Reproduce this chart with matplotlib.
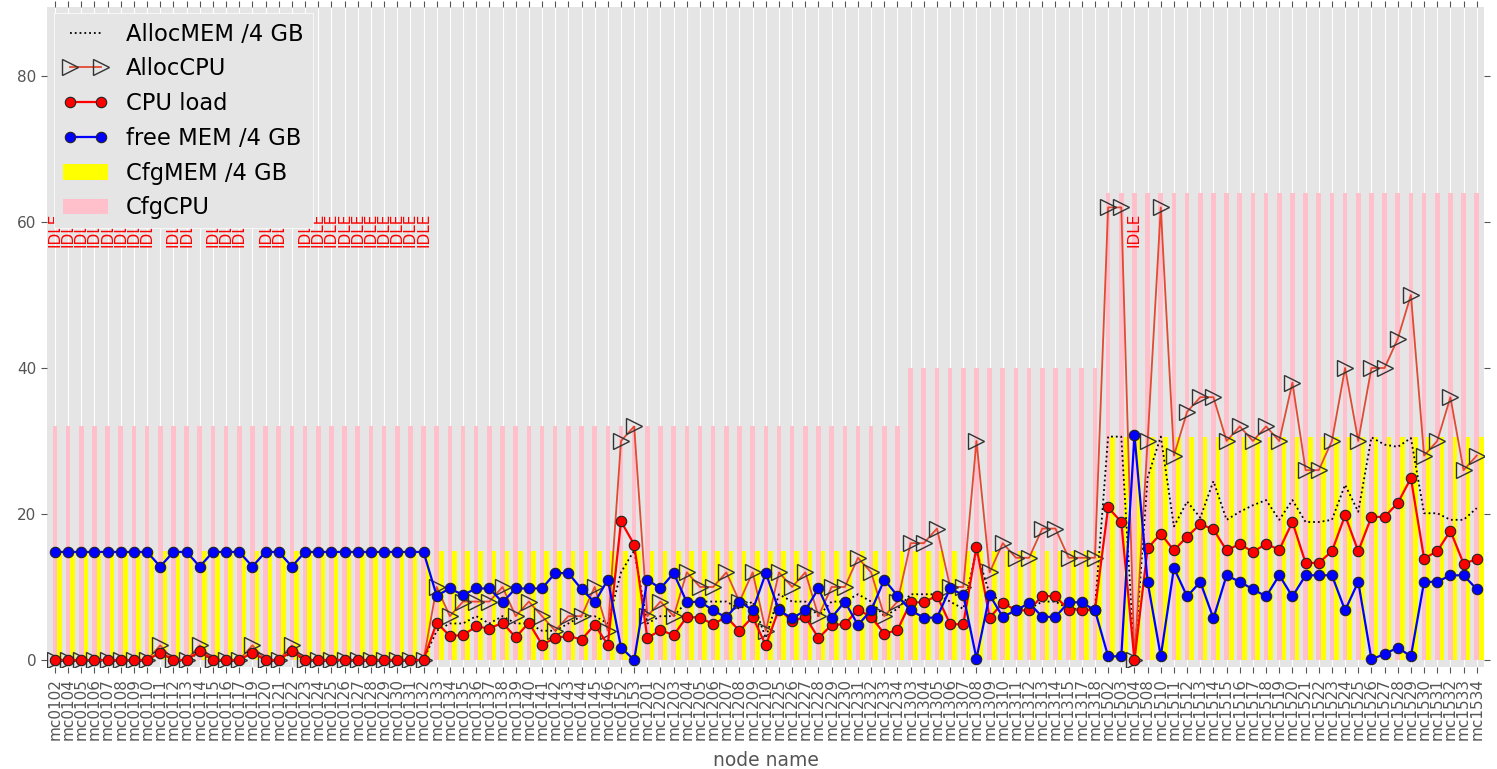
import matplotlib
matplotlib.use('Agg')
import matplotlib.pyplot as plt
import numpy as np

# node load overview: configured resources as bars, allocation/usage as lines

nodes = ['mc0102', 'mc0104', 'mc0105', 'mc0106', 'mc0107', 'mc0108', 'mc0109', 'mc0110', 'mc0111', 'mc0112',
         'mc0113', 'mc0114', 'mc0115', 'mc0116', 'mc0117', 'mc0119', 'mc0120', 'mc0121', 'mc0122', 'mc0123',
         'mc0124', 'mc0125', 'mc0126', 'mc0127', 'mc0128', 'mc0129', 'mc0130', 'mc0131', 'mc0132', 'mc0133',
         'mc0134', 'mc0135', 'mc0136', 'mc0137', 'mc0138', 'mc0139', 'mc0140', 'mc0141', 'mc0142', 'mc0143',
         'mc0144', 'mc0145', 'mc0146', 'mc0152', 'mc0153',
         'mc1201', 'mc1202', 'mc1203', 'mc1204', 'mc1205', 'mc1206', 'mc1207', 'mc1208', 'mc1209', 'mc1210',
         'mc1225', 'mc1226', 'mc1227', 'mc1228', 'mc1229', 'mc1230', 'mc1231', 'mc1232', 'mc1233', 'mc1234',
         'mc1303', 'mc1304', 'mc1305', 'mc1306', 'mc1307', 'mc1308', 'mc1309', 'mc1310', 'mc1311', 'mc1312',
         'mc1313', 'mc1314', 'mc1315', 'mc1317', 'mc1318',
         'mc1502', 'mc1503', 'mc1504', 'mc1508', 'mc1510', 'mc1511', 'mc1512', 'mc1513', 'mc1514', 'mc1515',
         'mc1516', 'mc1517', 'mc1518', 'mc1519', 'mc1520', 'mc1521', 'mc1522', 'mc1523', 'mc1524', 'mc1525',
         'mc1526', 'mc1527', 'mc1528', 'mc1529', 'mc1530', 'mc1531', 'mc1532', 'mc1533', 'mc1534']

cfg_cpu = [32, 32, 32, 32, 32, 32, 32, 32, 32, 32,
           32, 32, 32, 32, 32, 32, 32, 32, 32, 32,
           32, 32, 32, 32, 32, 32, 32, 32, 32, 32,
           32, 32, 32, 32, 32, 32, 32, 32, 32, 32,
           32, 32, 32, 32, 32,
           32, 32, 32, 32, 32, 32, 32, 32, 32, 32,
           32, 32, 32, 32, 32, 32, 32, 32, 32, 32,
           40, 40, 40, 40, 40, 40, 40, 40, 40, 40,
           40, 40, 40, 40, 40,
           64, 64, 64, 64, 64, 64, 64, 64, 64, 64,
           64, 64, 64, 64, 64, 64, 64, 64, 64, 64,
           64, 64, 64, 64, 64, 64, 64, 64, 64]

cfg_mem = [14.9, 14.9, 14.9, 14.9, 14.9, 14.9, 14.9, 14.9, 14.9, 14.9,
           14.9, 14.9, 14.9, 14.9, 14.9, 14.9, 14.9, 14.9, 14.9, 14.9,
           14.9, 14.9, 14.9, 14.9, 14.9, 14.9, 14.9, 14.9, 14.9, 14.9,
           14.9, 14.9, 14.9, 14.9, 14.9, 14.9, 14.9, 14.9, 14.9, 14.9,
           14.9, 14.9, 14.9, 14.9, 14.9,
           14.9, 14.9, 14.9, 14.9, 14.9, 14.9, 14.9, 14.9, 14.9, 14.9,
           14.9, 14.9, 14.9, 14.9, 14.9, 14.9, 14.9, 14.9, 14.9, 14.9,
           14.9, 14.9, 14.9, 14.9, 14.9, 14.9, 14.9, 14.9, 14.9, 14.9,
           14.9, 14.9, 14.9, 14.9, 14.9,
           30.6, 30.6, 30.6, 30.6, 30.6, 30.6, 30.6, 30.6, 30.6, 30.6,
           30.6, 30.6, 30.6, 30.6, 30.6, 30.6, 30.6, 30.6, 30.6, 30.6,
           30.6, 30.6, 30.6, 30.6, 30.6, 30.6, 30.6, 30.6, 30.6]

alloc_cpu = [0, 0, 0, 0, 0, 0, 0, 0, 2, 0,
             0, 2, 0, 0, 0, 2, 0, 0, 2, 0,
             0, 0, 0, 0, 0, 0, 0, 0, 0, 10,
             6, 8, 8, 8, 10, 6, 8, 6, 4, 6,
             6, 10, 4, 30, 32,
             6, 8, 6, 12, 10, 10, 12, 8, 12, 4,
             12, 10, 12, 6, 10, 10, 14, 12, 6, 8,
             16, 16, 18, 10, 10, 30, 12, 16, 14, 14,
             18, 18, 14, 14, 14,
             62, 62, 0, 30, 62, 28, 34, 36, 36, 30,
             32, 30, 32, 30, 38, 26, 26, 30, 40, 30,
             40, 40, 44, 50, 28, 30, 36, 26, 28]

alloc_mem = [0, 0, 0, 0, 0, 0, 0, 0, 1.0, 0,
             0, 1.0, 0, 0, 0, 1.0, 0, 0, 1.0, 0,
             0, 0, 0, 0, 0, 0, 0, 0, 0, 4,
             5, 5, 6, 5, 6, 5, 5, 4, 4, 5,
             6, 6, 5, 12, 15,
             5, 6, 6, 8, 8, 8, 8, 7, 8, 3,
             9, 8, 8, 6, 8, 8, 9, 8, 6, 7,
             9, 9, 9, 8, 7, 15, 9, 8, 7, 7,
             8, 8, 7, 7, 7,
             30.6, 30.6, 0, 25, 30.6, 18.3, 21.7, 19.5, 24.5, 19.2,
             20.3, 21.2, 21.9, 19.2, 21.9, 18.9, 18.9, 19.2, 24.0, 20.3,
             30.5, 29.5, 29.2, 30.4, 20.1, 20.1, 19.2, 19.2, 20.8]

cpu_load = [0, 0, 0, 0, 0, 0, 0, 0, 1.0, 0,
            0, 1.2, 0, 0, 0, 1.0, 0, 0, 1.2, 0,
            0, 0, 0, 0, 0, 0, 0, 0, 0, 5.1,
            3.3, 3.4, 4.6, 4.3, 5.1, 3.1, 5.1, 2.1, 3.0, 3.3,
            2.8, 4.8, 2.1, 19.0, 15.8,
            3.0, 4.1, 3.4, 5.9, 5.8, 4.9, 5.9, 4.0, 5.9, 2.0,
            7.0, 5.3, 5.9, 3.0, 4.8, 4.9, 6.9, 5.9, 3.6, 4.1,
            7.9, 7.9, 8.8, 4.9, 4.9, 15.5, 5.8, 7.8, 6.8, 6.8,
            8.8, 8.7, 6.9, 6.9, 6.8,
            20.9, 18.9, 0.0, 15.3, 17.3, 15.0, 16.9, 18.6, 17.9, 15.0,
            15.9, 14.8, 15.9, 15.1, 18.9, 13.3, 13.3, 14.9, 19.8, 14.9,
            19.6, 19.6, 21.5, 24.9, 13.9, 14.9, 17.7, 13.2, 13.8]

free_mem = [14.8, 14.8, 14.8, 14.8, 14.8, 14.8, 14.8, 14.8, 12.8, 14.8,
            14.8, 12.8, 14.8, 14.8, 14.8, 12.8, 14.8, 14.8, 12.8, 14.8,
            14.8, 14.8, 14.8, 14.8, 14.8, 14.8, 14.8, 14.8, 14.8, 8.8,
            9.8, 8.9, 9.8, 9.8, 7.9, 9.8, 9.8, 9.8, 11.9, 11.9,
            9.7, 7.9, 11.0, 1.7, 0.0,
            11.0, 9.8, 11.9, 7.9, 8.0, 6.8, 5.8, 8.0, 6.8, 11.9,
            6.8, 5.7, 6.8, 9.8, 5.8, 8.0, 4.8, 6.8, 11.0, 8.8,
            6.8, 5.8, 5.8, 9.8, 8.9, 0.2, 8.9, 5.9, 6.8, 7.8,
            5.9, 5.9, 7.9, 7.9, 6.8,
            0.5, 0.5, 30.8, 10.7, 0.5, 12.6, 8.7, 10.7, 5.7, 11.6,
            10.7, 9.7, 8.7, 11.6, 8.7, 11.6, 11.6, 11.6, 6.8, 10.7,
            0.1, 0.8, 1.7, 0.5, 10.7, 10.7, 11.6, 11.6, 9.7]

plt.style.use('ggplot')

fig = plt.figure(figsize=(14.97, 7.69), dpi=100)
ax = fig.add_axes([0.0314, 0.1323, 0.9599, 0.8590])

x = np.arange(len(nodes))
w = 0.35

b_mem = ax.bar(x + w, cfg_mem, width=w, color='yellow', edgecolor='none', label='CfgMEM /4 GB')
b_cpu = ax.bar(x, cfg_cpu, width=w, color='pink', edgecolor='none', label='CfgCPU')

l_amem, = ax.plot(x, alloc_mem, 'k:', lw=1.3, label='AllocMEM /4 GB')
l_acpu, = ax.plot(x, alloc_cpu, '-', color='#E24A33', lw=1.3, marker='>', ms=11,
                  mfc='none', mec='#333333', mew=1.0, label='AllocCPU')
l_load, = ax.plot(x, cpu_load, 'r-', lw=1.6, marker='o', ms=7.5, mfc='red', mec='#222222',
                  mew=0.8, label='CPU load')
l_free, = ax.plot(x, free_mem, 'b-', lw=1.6, marker='o', ms=7.5, mfc='blue', mec='#222222',
                  mew=0.8, label='free MEM /4 GB')

# mark nodes without any allocation
for i in range(len(nodes)):
    if alloc_cpu[i] == 0:
        ax.text(x[i], 59, 'IDLE', rotation=90, color='red', fontsize=11,
                ha='center', va='center', zorder=4)

ax.set_xlim(-0.6, len(nodes) - 0.45)
ax.set_ylim(-1, 89.5)
ax.set_xticks(x)
ax.set_xticklabels(nodes, rotation=90, fontsize=11)
ax.set_yticks([0, 20, 40, 60, 80])
ax.tick_params(axis='y', labelsize=11)
ax.tick_params(top=True, right=True, direction='out', length=4, color='#555555',
               labelcolor='#555555')
ax.grid(False)
ax.grid(True, axis='x', color='white', lw=0.8)
ax.set_axisbelow(True)
for s in ax.spines.values():
    s.set_visible(False)
ax.set_xlabel('node name', fontsize=13.5, color='#555555', labelpad=8)

leg = ax.legend(handles=[l_amem, l_acpu, l_load, l_free, b_mem, b_cpu], loc='upper left',
                fontsize=16.3, numpoints=2, frameon=True, fancybox=False,
                borderaxespad=0.3, labelspacing=0.52)
leg.get_frame().set_facecolor('#E5E5E5')
leg.get_frame().set_edgecolor('white')
leg.get_frame().set_alpha(1.0)
leg.set_zorder(10)

fig.savefig('out.png', dpi=100)
